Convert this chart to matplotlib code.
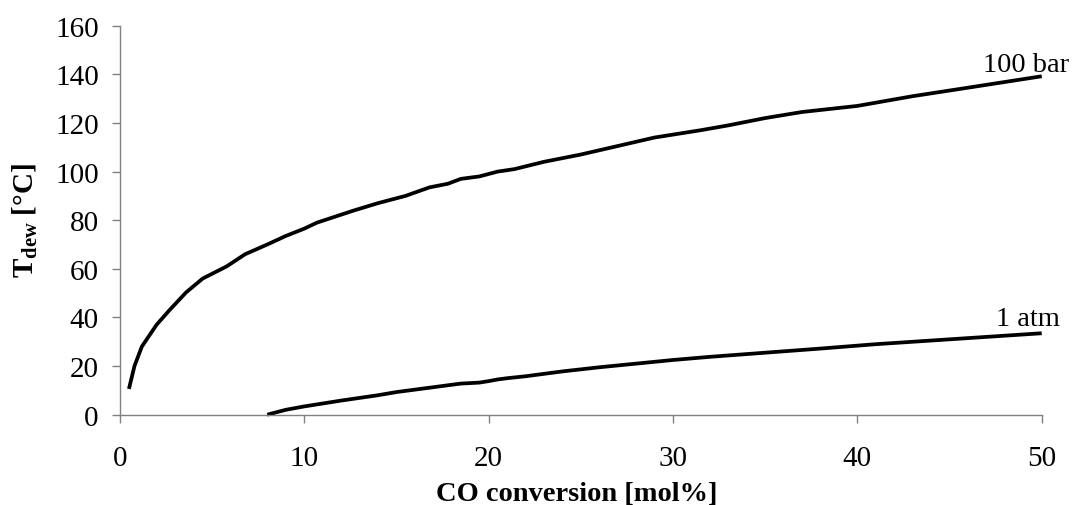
import matplotlib
matplotlib.use("Agg")
import matplotlib.pyplot as plt

plt.rcParams['font.family'] = ['Liberation Serif', 'DejaVu Serif']
plt.rcParams['mathtext.fontset'] = 'custom'
plt.rcParams['mathtext.rm'] = 'Liberation Serif'
plt.rcParams['mathtext.it'] = 'Liberation Serif:italic'
plt.rcParams['mathtext.bf'] = 'Liberation Serif:bold'

# 100 bar series
x_100bar = [0.5, 0.8, 1.2, 2.0, 2.7, 3.6, 4.5, 5.8, 6.8, 8, 9, 10, 10.7, 11.5, 12.7,
            14, 15.5, 16.8, 17.8, 18.5, 19.5, 20.5, 21.4, 23, 25, 27, 29, 31.5, 33,
            35, 37, 40, 43, 46, 50]
y_100bar = [10.6, 20, 28, 37, 43, 50.3, 56, 61, 66, 70, 73.5, 76.5, 79, 81, 84,
            87, 90, 93.5, 95, 97, 98, 100, 101, 104, 107, 110.5, 114, 117, 119,
            122, 124.5, 127, 131, 134.5, 139.2]

# 1 atm series
x_1atm = [8, 9, 10, 11, 12, 13, 14, 15, 16, 17, 18, 18.5, 19.5, 20, 20.5, 21, 22,
          23, 24, 26, 28, 30, 32, 35, 38, 41, 44, 47, 50]
y_1atm = [0, 2, 3.4, 4.6, 5.8, 6.9, 8, 9.3, 10.3, 11.3, 12.3, 12.8, 13.2, 13.8,
          14.5, 15, 15.8, 16.8, 17.8, 19.5, 21, 22.5, 23.8, 25.5, 27.2, 29, 30.5,
          32, 33.5]

x_ticks = [0, 10, 20, 30, 40, 50]
y_ticks = [0, 20, 40, 60, 80, 100, 120, 140, 160]

W, H = 1075, 506
fig = plt.figure(figsize=(W / 100, H / 100), dpi=100)
ax = fig.add_axes([119.7 / W, 1 - 415.7 / H, (1041.7 - 119.7) / W, (415.7 - 26.7) / H])

ax.plot(x_100bar, y_100bar, color='black', lw=2.7, solid_capstyle='butt', clip_on=False)
ax.plot(x_1atm, y_1atm, color='black', lw=2.7, solid_capstyle='butt', clip_on=False)

ax.set_xlim(0, 50)
ax.set_ylim(0, 160)
ax.set_xticks(x_ticks)
ax.set_yticks(y_ticks)

for s in ['top', 'right']:
    ax.spines[s].set_visible(False)
for s in ['left', 'bottom']:
    ax.spines[s].set_color('#808080')
    ax.spines[s].set_linewidth(1.0)
ax.tick_params(axis='both', direction='out', length=6, width=1.0, color='#808080',
               labelsize=21, labelcolor='black')
ax.tick_params(axis='x', pad=16)
ax.tick_params(axis='y', pad=9)

ax.text(51.5, 141.5, '100 bar', fontsize=20.5, ha='right', va='baseline', clip_on=False)
ax.text(51.0, 36.9, '1 atm', fontsize=20.5, ha='right', va='baseline', clip_on=False)

fig.text(577 / W, 1 - 501 / H, 'CO conversion [mol%]', fontsize=20.5, fontweight='bold',
         ha='center', va='baseline')
fig.text(25 / W, 1 - 221 / H, r'$\mathbf{T_{dew}}$ [°C]', fontsize=21, fontweight='bold',
         ha='center', va='center', rotation=90)

fig.savefig('out.png', dpi=100)
